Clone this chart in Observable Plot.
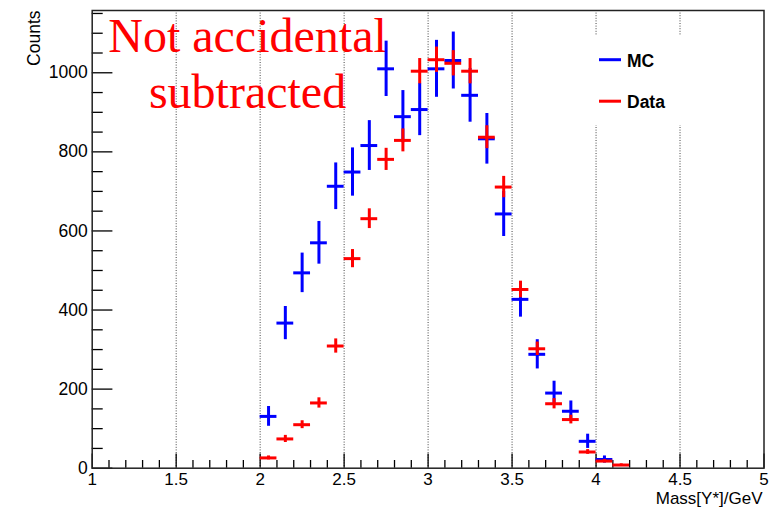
<!DOCTYPE html>
<html><head><meta charset="utf-8">
<script src="https://cdn.jsdelivr.net/npm/d3@7"></script>
<script src="https://cdn.jsdelivr.net/npm/@observablehq/plot@0.6"></script>
<style>
html,body{margin:0;padding:0;background:#fff;}
#chart{width:771px;height:511px;}
</style></head><body><div id="chart"></div>
<script>
// ---- data ----
const binWidth = 0.1;
const mcCenters   = [2.05,2.15,2.25,2.35,2.45,2.55,2.65,2.75,2.85,2.95,3.05,3.15,3.25,3.35,3.45,3.55,3.65,3.75,3.85,3.95,4.05];
const mcCounts    = [131,367,494,570,713,749,816,1010,889,907,1010,1031,943,833,643,427,288,190,144,68,22];
const mcErrors    = [25,42,50,54,59,61,63,70,66,66,72,72,68,64,57,45,37,30,26,18,9];
const dataCenters = [2.05,2.15,2.25,2.35,2.45,2.55,2.65,2.75,2.85,2.95,3.05,3.15,3.25,3.35,3.45,3.55,3.65,3.75,3.85,3.95,4.05,4.15];
const dataCounts  = [26,74,110,165,309,530,631,781,829,1004,1033,1024,1004,837,711,452,302,163,123,41,18,8];
const dataErrors  = [5,9,10,13,18,23,25,28,29,32,32,32,32,29,27,21,17,13,11,6,4,3];
const xTicks  = [1,1.5,2,2.5,3,3.5,4,4.5,5];
const xGrid   = [1.5,2,2.5,3,3.5,4,4.5];
const xMinor  = [1.1,1.2,1.3,1.4,1.6,1.7,1.8,1.9,2.1,2.2,2.3,2.4,2.6,2.7,2.8,2.9,3.1,3.2,3.3,3.4,3.6,3.7,3.8,3.9,4.1,4.2,4.3,4.4,4.6,4.7,4.8,4.9];
const yTicks  = [0,200,400,600,800,1000];
const yMinor  = [50,100,150,250,300,350,450,500,550,650,700,750,850,900,950,1050,1100,1150];
const xTitle = "Mass[Y*]/GeV";
const yTitle = "Counts";
const noteLines = ["Not accidental","subtracted"];
const legendItems = [{label:"MC", color:"#0000ff"},{label:"Data", color:"#ff0000"}];
const seriesColors = {MC:"#0000ff", Data:"#ff0000"};

const mc = mcCenters.map((x,i)=>({x, v:mcCounts[i], e:mcErrors[i]}));
const dat = dataCenters.map((x,i)=>({x, v:dataCounts[i], e:dataErrors[i]}));

const W = 771, H = 511;
const mL = 91.7, mR = 7.5, mT = 10, mB = 43.3;
const fW = W - mL - mR, fH = H - mT - mB;
const sans = "'Liberation Sans', Arial, Helvetica, sans-serif";

function legendBox(index, scales, values, dim) {
  const g = d3.create("svg:g");
  g.append("rect").attr("x", 585).attr("y", 35).attr("width", 115).attr("height", 90).attr("fill", "#fff");
  return g.node();
}
function legendContent(index, scales, values, dim) {
  const g = d3.create("svg:g");
  legendItems.forEach((it, i) => {
    const cy = 59.7 + i * 41.5;
    g.append("line").attr("x1", 599).attr("x2", 621).attr("y1", cy).attr("y2", cy)
      .attr("stroke", it.color).attr("stroke-width", 3);
    g.append("text").attr("x", 627).attr("y", cy + 7.2).text(it.label)
      .attr("text-anchor", "start")
      .attr("font-family", sans).attr("font-weight", "bold").attr("font-size", 17.5).attr("fill", "#000");
  });
  return g.node();
}

const plot = Plot.plot({
  width: W, height: H,
  marginLeft: mL, marginRight: mR, marginTop: mT, marginBottom: mB,
  style: {fontFamily: sans, background: "#fff", overflow: "visible"},
  x: {domain: [1, 5], axis: null},
  y: {domain: [0, 1157.5], axis: null},
  marks: [
    Plot.ruleX(xGrid, {x: d => d, stroke: "#444", strokeWidth: 1, strokeDasharray: "1,1.6"}),
    legendBox,
    Plot.ruleX(xMinor, {x: d => d, insetTop: fH - 7.7, stroke: "#000", strokeWidth: 1.3}),
    Plot.ruleX(xTicks, {x: d => d, insetTop: fH - 14.3, stroke: "#000", strokeWidth: 1.3}),
    Plot.ruleY(yMinor, {y: d => d, insetRight: fW - 11, stroke: "#000", strokeWidth: 1.3}),
    Plot.ruleY(yTicks, {y: d => d, insetRight: fW - 20.7, stroke: "#000", strokeWidth: 1.3}),
    Plot.text([noteLines.join("\n")], {frameAnchor: "top-left", dx: 155.3, dy: 2, textAnchor: "middle", lineAnchor: "top",
      fontSize: 48, lineHeight: 1.167, fill: "#ff0000", fontFamily: "'Liberation Serif', 'Times New Roman', serif"}),
    Plot.ruleX(mc, {x: "x", y1: d => d.v - d.e, y2: d => d.v + d.e, stroke: seriesColors.MC, strokeWidth: 3}),
    Plot.ruleY(mc, {y: "v", x1: d => d.x - binWidth/2, x2: d => d.x + binWidth/2, stroke: seriesColors.MC, strokeWidth: 3}),
    Plot.ruleX(dat, {x: "x", y1: d => d.v - d.e, y2: d => d.v + d.e, stroke: seriesColors.Data, strokeWidth: 3}),
    Plot.ruleY(dat, {y: "v", x1: d => d.x - binWidth/2, x2: d => d.x + binWidth/2, stroke: seriesColors.Data, strokeWidth: 3}),
    Plot.frame({stroke: "#222", strokeWidth: 1.5}),
    Plot.axisX(xTicks, {tickSize: 0, tickPadding: 4.5, fontSize: 17, tickFormat: d => String(d), fill: "#000", label: null}),
    Plot.axisY(yTicks, {tickSize: 0, tickPadding: 4.4, fontSize: 17.5, tickFormat: d => String(d), fill: "#000", label: null}),
    Plot.text([xTitle], {frameAnchor: "bottom-right", dx: -1.5, dy: 35.5, textAnchor: "end", fontSize: 17, fill: "#000"}),
    Plot.text([yTitle], {frameAnchor: "top-left", dx: -65, dy: 0, rotate: -90, textAnchor: "end", fontSize: 17.5, fill: "#000"}),
    legendContent
  ]
});
document.getElementById("chart").appendChild(plot);
</script></body></html>
